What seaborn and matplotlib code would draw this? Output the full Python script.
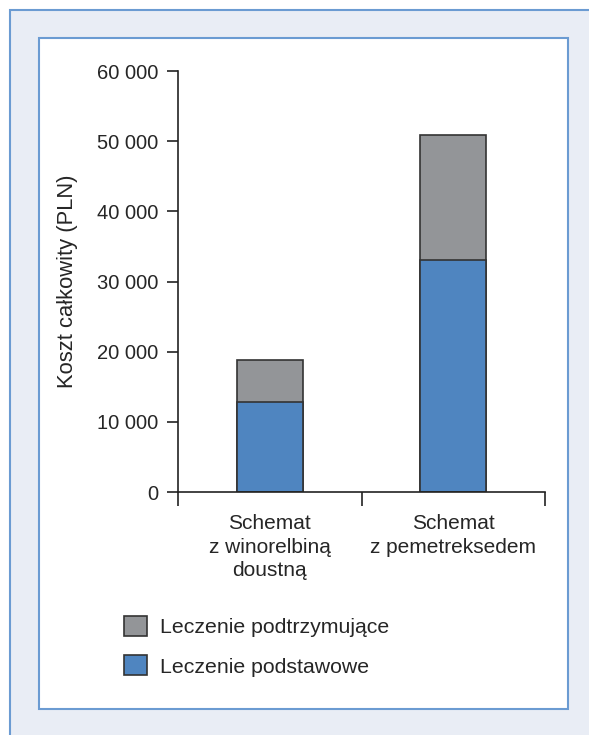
import matplotlib
matplotlib.use("Agg")
import matplotlib.pyplot as plt
from matplotlib.patches import Rectangle, Patch
from matplotlib.ticker import FuncFormatter
import seaborn as sns
import pandas as pd

schemes = ["Schemat\nz winorelbiną\ndoustną", "Schemat\nz pemetreksedem"]
basic = [12800, 33000]        # Leczenie podstawowe
supportive = [6000, 17900]    # Leczenie podtrzymujące
yticks = [0, 10000, 20000, 30000, 40000, 50000, 60000]

blue = "#4f85c0"
gray = "#939598"
edge = "#333333"
frame_blue = "#6b9bd2"

data = pd.DataFrame({
    "Scheme": schemes,
    "Basic": basic,
    "Total": [b + s for b, s in zip(basic, supportive)],
})

sns.set_style("white")
plt.rcParams["font.family"] = ["Liberation Sans", "DejaVu Sans"]

W, H = 589, 735
fig = plt.figure(figsize=(W / 100, H / 100), dpi=100)
fig.patch.set_facecolor("white")

# outer and inner frames (behind the axes)
fig.patches.append(Rectangle((10 / W, -0.1), 1.1, 1 - 10 / H + 0.1,
                             transform=fig.transFigure, facecolor="#e9edf5",
                             edgecolor=frame_blue, linewidth=1.5, zorder=-2))
fig.patches.append(Rectangle((39 / W, 1 - 709 / H), (568 - 39) / W, (709 - 38) / H,
                             transform=fig.transFigure, facecolor="white",
                             edgecolor=frame_blue, linewidth=1.5, zorder=-1))

ax = fig.add_axes([178 / W, 1 - 492 / H, (545 - 178) / W, (492 - 71) / H])
ax.set_facecolor("none")

sns.barplot(data=data, x="Scheme", y="Total", color=gray, width=0.36,
            edgecolor=edge, linewidth=1.2, saturation=1, ax=ax)
sns.barplot(data=data, x="Scheme", y="Basic", color=blue, width=0.36,
            edgecolor=edge, linewidth=1.2, saturation=1, ax=ax)

ax.set_xlim(-0.5, 1.5)
ax.set_ylim(0, 60000)
ax.set_yticks(yticks)
ax.yaxis.set_major_formatter(FuncFormatter(lambda v, p: f"{int(v):,}".replace(",", " ")))
ax.set_xticks([0, 1])
ax.set_xticklabels(schemes, fontsize=15, linespacing=1.3)
ax.set_xticks([-0.5, 0.5, 1.5], minor=True)
ax.tick_params(axis="x", which="major", length=0, pad=16)
ax.tick_params(axis="x", which="minor", bottom=True, length=10, width=1.2,
               color="#222222", direction="out")
ax.tick_params(axis="y", length=8, width=1.2, color="#222222", direction="out",
               labelsize=14.5, pad=6, left=True)

for s in ["top", "right"]:
    ax.spines[s].set_visible(False)
for s in ["left", "bottom"]:
    ax.spines[s].set_color("#222222")
    ax.spines[s].set_linewidth(1.2)

ax.set_xlabel("")
ax.set_ylabel("Koszt całkowity (PLN)", fontsize=15.8, labelpad=14)

handles = [Patch(facecolor=gray, edgecolor=edge, linewidth=1.2, label="Leczenie podtrzymujące"),
           Patch(facecolor=blue, edgecolor=edge, linewidth=1.2, label="Leczenie podstawowe")]
fig.legend(handles=handles, loc="upper left", bbox_to_anchor=(124 / W, 1 - 616 / H),
           frameon=False, fontsize=15.3, handlelength=1.08, handleheight=1.08,
           handletextpad=0.6, labelspacing=0.85, borderpad=0, borderaxespad=0)

fig.savefig("out.png", dpi=100)
